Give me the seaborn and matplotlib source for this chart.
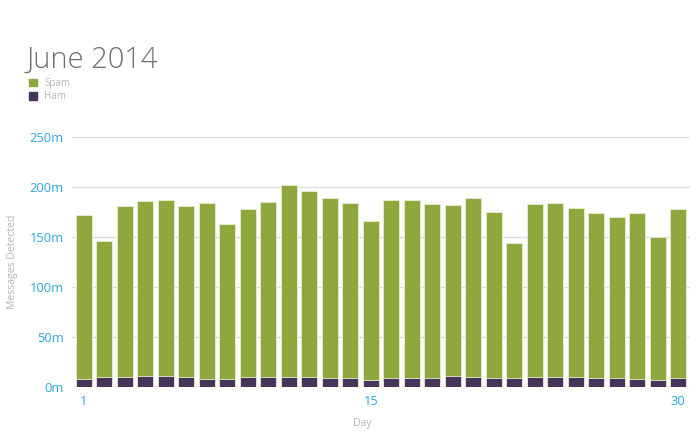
import matplotlib
matplotlib.use("Agg")
import matplotlib.pyplot as plt
from matplotlib.patches import Patch
import seaborn as sns
import pandas as pd

sns.set_style("white")
plt.rcParams['font.family'] = ['Open Sans', 'DejaVu Sans']

days = list(range(1, 31))
total = [172, 146, 181, 186, 187, 181, 184, 163, 178, 185,
         202, 196, 189, 184, 166, 187, 187, 183, 182, 189,
         175, 144, 183, 184, 179, 174, 170, 174, 150, 178]
ham = [8, 10, 10, 10.7, 10.7, 10, 8, 8, 10, 10,
       10, 10, 8.7, 8.7, 7.3, 8.7, 9.3, 9.3, 10.7, 10,
       8.7, 8.7, 10.3, 10.3, 10.3, 9.3, 9.3, 8, 7.3, 9.3]
spam = [t - h for t, h in zip(total, ham)]

spam_color = '#8fa83d'
ham_color = '#46345a'
blue = '#2ca8df'
grey = '#b5b5b5'

df = pd.DataFrame({'day': days, 'spam': spam, 'ham': ham})
df['total'] = df['spam'] + df['ham']

fig = plt.figure(figsize=(7, 4.37), dpi=100)
ax = fig.add_axes([72 / 700, 50 / 437, 618 / 700, 250 / 437])

sns.barplot(data=df, x='day', y='total', color=spam_color, saturation=1,
            width=0.78, edgecolor='#e8eed5', linewidth=0.6, ax=ax)
sns.barplot(data=df, x='day', y='ham', color=ham_color, saturation=1,
            width=0.78, edgecolor='#e8eed5', linewidth=0.6, ax=ax)

ax.set_ylim(0, 250)
ax.set_xlim(-0.585, 29.585)
ax.set_yticks([0, 50, 100, 150, 200, 250])
ax.set_yticklabels(['0m', '50m', '100m', '150m', '200m', '250m'])
ax.set_xticks([0, 14, 29])
ax.set_xticklabels(['1', '15', '30'])
ax.yaxis.grid(True, color='#dddddd', linewidth=1)
ax.set_axisbelow(True)
for s in ax.spines.values():
    s.set_visible(False)
ax.tick_params(axis='both', length=0, labelsize=9.3, labelcolor=blue)
ax.tick_params(axis='y', pad=6)
ax.tick_params(axis='x', pad=6)

ax.set_ylabel('Messages Detected', fontsize=7.5, color=grey)
ax.yaxis.set_label_coords(-0.088, 0.5)
ax.set_xlabel('Day', fontsize=7.5, color=grey)
ax.xaxis.set_label_coords(0.47, -0.125)

fig.text(27 / 700, 1 - 68 / 437, 'June 2014', fontsize=21, color='#707070',
         fontweight='light', ha='left', va='baseline')

handles = [Patch(color=spam_color, label='Spam'), Patch(color=ham_color, label='Ham')]
fig.legend(handles=handles, loc='upper left', bbox_to_anchor=(22 / 700, 1 - 71 / 437),
           frameon=False, fontsize=7, labelcolor=grey, handlelength=0.8,
           handleheight=0.8, handletextpad=0.8, labelspacing=0.25, borderpad=0.2)

fig.savefig('out.png', dpi=100)
